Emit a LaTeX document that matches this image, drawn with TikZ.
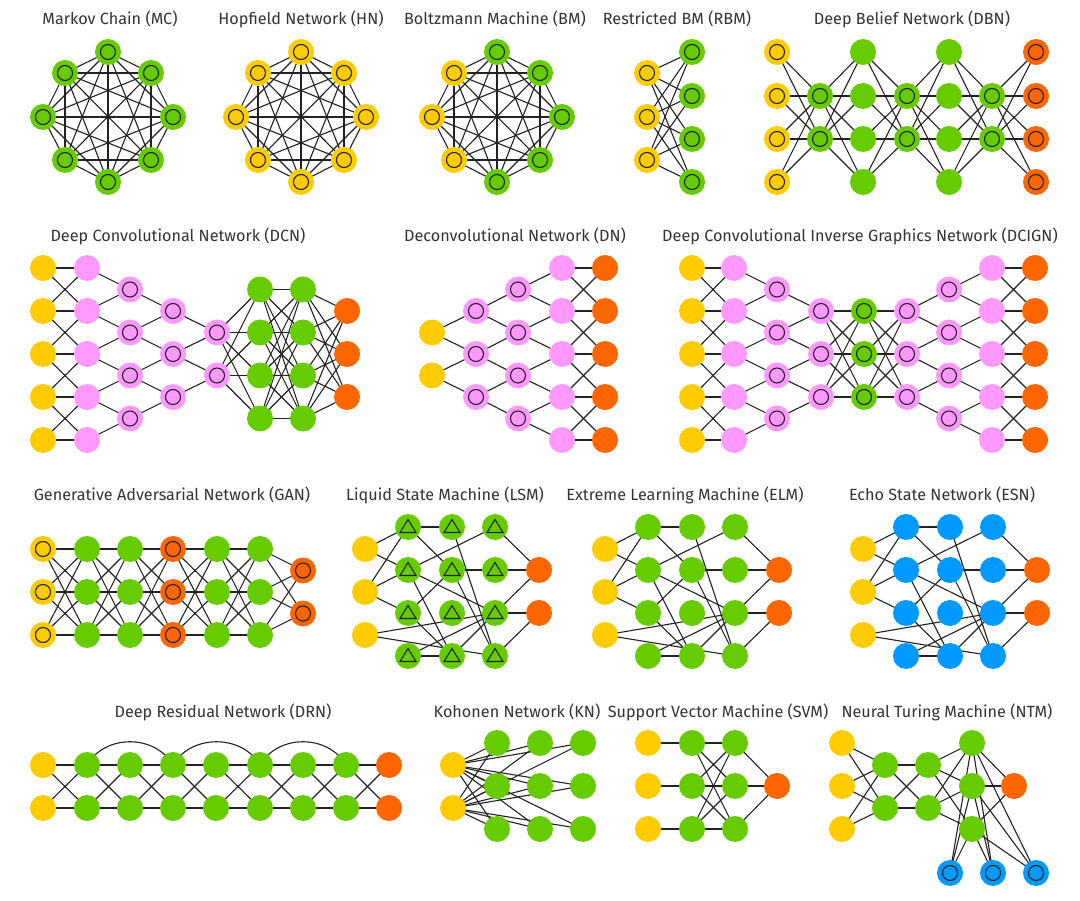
\documentclass[tikz,border=0pt]{standalone}
\usepackage{fontspec}
\setmainfont{Fira Sans}
\pgfdeclarelayer{bg}
\pgfdeclarelayer{paper}
\pgfsetlayers{paper,bg,main}
\definecolor{cy}{HTML}{FFCC00}
\definecolor{cg}{HTML}{66CC00}
\definecolor{co}{HTML}{FF6600}
\definecolor{cp}{HTML}{FF99FF}
\definecolor{cb}{HTML}{0099FF}
\definecolor{ct}{HTML}{333333}
\definecolor{ce}{HTML}{222222}
% full bipartite: prefix1, n1, prefix2, n2
\newcommand\fullc[4]{\foreach \i in {1,...,#2}{\foreach \j in {1,...,#4}{\draw[ed] (#1\i.center) -- (#3\j.center);}}}
% tridiagonal: prefix1, prefix2, n
\newcommand\tridg[3]{\foreach \i in {1,...,#3}{\foreach \j in {1,...,#3}{\ifnum\numexpr\i-\j\relax<2 \ifnum\numexpr\j-\i\relax<2 \draw[ed] (#1\i.center) -- (#2\j.center);\fi\fi}}}
% convolution: big prefix, small prefix, small count
\newcommand\convc[3]{\foreach \j in {1,...,#3}{\pgfmathtruncatemacro\jj{\j+1}\draw[ed] (#1\j.center) -- (#2\j.center); \draw[ed] (#1\jj.center) -- (#2\j.center);}}
% random reservoir network: prefix, input x, hidden options
\newcommand\rnet[3]{%
 \foreach \y [count=\k] in {549,592,635} \node[nd,fill=cy] (#1y\k) at (#2,\y) {};
 \foreach \c/\dx in {a/43,b/87,c/130}{\foreach \y [count=\k] in {527,570,613,656} \node[nd,#3] (#1\c\k) at ({#2+\dx},\y) {};}
 \foreach \y [count=\k] in {570,613} \node[nd,fill=co] (#1o\k) at ({#2+174},\y) {};
 \begin{pgfonlayer}{bg}
 \foreach \u/\v in {y1/a1,y1/a2,y2/a1,y2/a2,y2/a3,y3/c3,y3/c4,a1/b1,a1/b2,a2/c1,a2/c3,a2/b4,a3/b2,a3/b4,a4/b4,a4/c3,b1/c4,b2/c2,b2/c4,b4/c3,c1/o1,c2/o1,c3/o1,c3/o2,c4/o2}
   \draw[ed] (#1\u.center) -- (#1\v.center);
 \end{pgfonlayer}}
\begin{document}
\begin{tikzpicture}[x=1pt,y=-1pt,
  nd/.style={circle,minimum size=26pt,inner sep=0pt,draw=none},
  rg/.style={path picture={\draw[line width=1.1pt,ce] (path picture bounding box.center) circle[radius=7.5pt];}},
  tr/.style={path picture={\draw[line width=1.1pt,ce,line join=miter] ([yshift=7.5pt]path picture bounding box.center) -- ++(-8pt,-13pt) -- ++(16pt,0pt) -- cycle;}},
  ed/.style={line width=1.1pt,ce},
  ttl/.style={font=\fontsize{16.2}{19}\selectfont,text=ct,inner sep=0pt}]
\useasboundingbox (0,0) rectangle (1080,901);
\begin{pgfonlayer}{paper}
\fill[white] (0,0) rectangle (1080,901);
\end{pgfonlayer}

% ---------- titles ----------
\node[ttl] (t-mc) at (110,19) {Markov Chain (MC)};
\node[ttl] (t-hn) at (301,19) {Hopfield Network (HN)};
\node[ttl] (t-bm) at (495,19) {Boltzmann Machine (BM)};
\node[ttl] (t-rbm) at (677,19) {Restricted BM (RBM)};
\node[ttl] (t-dbn) at (912,19) {Deep Belief Network (DBN)};
\node[ttl] (t-dcn) at (178,236) {Deep Convolutional Network (DCN)};
\node[ttl] (t-dn) at (515,236) {Deconvolutional Network (DN)};
\node[ttl] (t-dcign) at (860,236) {Deep Convolutional Inverse Graphics Network (DCIGN)};
\node[ttl] (t-gan) at (172,495) {Generative Adversarial Network (GAN)};
\node[ttl] (t-lsm) at (445,495) {Liquid State Machine (LSM)};
\node[ttl] (t-elm) at (685,495) {Extreme Learning Machine (ELM)};
\node[ttl] (t-esn) at (942,495) {Echo State Network (ESN)};
\node[ttl] (t-drn) at (223,712) {Deep Residual Network (DRN)};
\node[ttl] (t-kn) at (517,712) {Kohonen Network (KN)};
\node[ttl] (t-svm) at (718,712) {Support Vector Machine (SVM)};
\node[ttl] (t-ntm) at (947,712) {Neural Turing Machine (NTM)};

% ---------- MC, HN, BM ----------
\foreach \k/\dx/\dy/\bc in {1/0/-65/cg,2/43/-44/cg,3/65/0/cg,4/43/43/cg,5/0/65/cg,6/-43/43/cy,7/-65/0/cy,8/-43/-44/cy}{
  \node[nd,rg,fill=cg] (mc\k) at ({108+\dx},{117+\dy}) {};
  \node[nd,rg,fill=cy] (hn\k) at ({301+\dx},{117+\dy}) {};
  \node[nd,rg,fill=\bc] (bm\k) at ({497+\dx},{117+\dy}) {};
}
\begin{pgfonlayer}{bg}
\foreach \n in {mc,hn,bm}{\foreach \i in {1,...,8}{\foreach \j in {1,...,8}{\ifnum\i<\j \draw[ed] (\n\i.center) -- (\n\j.center);\fi}}}
\end{pgfonlayer}

% ---------- RBM ----------
\foreach \y [count=\k] in {73,117,160} \node[nd,rg,fill=cy] (rv\k) at (647,\y) {};
\foreach \y [count=\k] in {52,96,139,182} \node[nd,rg,fill=cg] (rh\k) at (692,\y) {};
\begin{pgfonlayer}{bg}\fullc{rv}{3}{rh}{4}\end{pgfonlayer}

% ---------- DBN ----------
\foreach \y [count=\k] in {52,96,139,182}{
  \node[nd,rg,fill=cy] (db1-\k) at (777,\y) {};
  \node[nd,fill=cg] (db3-\k) at (863,\y) {};
  \node[nd,fill=cg] (db5-\k) at (949,\y) {};
  \node[nd,rg,fill=co] (db7-\k) at (1036,\y) {};
}
\foreach \y [count=\k] in {96,139}{
  \node[nd,rg,fill=cg] (db2-\k) at (820,\y) {};
  \node[nd,rg,fill=cg] (db4-\k) at (907,\y) {};
  \node[nd,rg,fill=cg] (db6-\k) at (992,\y) {};
}
\begin{pgfonlayer}{bg}
\fullc{db1-}{4}{db2-}{2}\fullc{db2-}{2}{db3-}{4}\fullc{db3-}{4}{db4-}{2}
\fullc{db4-}{2}{db5-}{4}\fullc{db5-}{4}{db6-}{2}\fullc{db6-}{2}{db7-}{4}
\end{pgfonlayer}

% ---------- DCN ----------
\foreach \y [count=\k] in {268,311,354,397,440}{
  \node[nd,fill=cy] (dc1-\k) at (43,\y) {};
  \node[nd,fill=cp] (dc2-\k) at (87,\y) {};
}
\foreach \y [count=\k] in {289.5,332.5,375.5,418.5}{
  \node[nd,rg,fill=cp] (dc3-\k) at (130,\y) {};
  \node[nd,fill=cg] (dc6-\k) at (260,\y) {};
  \node[nd,fill=cg] (dc7-\k) at (303,\y) {};
}
\foreach \y [count=\k] in {311,354,397}{
  \node[nd,rg,fill=cp] (dc4-\k) at (173,\y) {};
  \node[nd,fill=co] (dc8-\k) at (347,\y) {};
}
\foreach \y [count=\k] in {332.5,375.5} \node[nd,rg,fill=cp] (dc5-\k) at (217,\y) {};
\begin{pgfonlayer}{bg}
\tridg{dc1-}{dc2-}{5}\convc{dc2-}{dc3-}{4}\convc{dc3-}{dc4-}{3}\convc{dc4-}{dc5-}{2}
\fullc{dc5-}{2}{dc6-}{4}\fullc{dc6-}{4}{dc7-}{4}\fullc{dc7-}{4}{dc8-}{3}
\end{pgfonlayer}

% ---------- DN ----------
\foreach \y [count=\k] in {332.5,375.5} \node[nd,fill=cy] (dn1-\k) at (432,\y) {};
\foreach \y [count=\k] in {311,354,397} \node[nd,rg,fill=cp] (dn2-\k) at (476,\y) {};
\foreach \y [count=\k] in {289.5,332.5,375.5,418.5} \node[nd,rg,fill=cp] (dn3-\k) at (518,\y) {};
\foreach \y [count=\k] in {268,311,354,397,440}{
  \node[nd,fill=cp] (dn4-\k) at (562,\y) {};
  \node[nd,fill=co] (dn5-\k) at (605,\y) {};
}
\begin{pgfonlayer}{bg}
\convc{dn2-}{dn1-}{2}\convc{dn3-}{dn2-}{3}\convc{dn4-}{dn3-}{4}\tridg{dn4-}{dn5-}{5}
\end{pgfonlayer}

% ---------- DCIGN ----------
\foreach \y [count=\k] in {268,311,354,397,440}{
  \node[nd,fill=cy] (dg1-\k) at (692,\y) {};
  \node[nd,fill=cp] (dg2-\k) at (734,\y) {};
  \node[nd,fill=cp] (dg8-\k) at (992,\y) {};
  \node[nd,fill=co] (dg9-\k) at (1035,\y) {};
}
\foreach \y [count=\k] in {289.5,332.5,375.5,418.5}{
  \node[nd,rg,fill=cp] (dg3-\k) at (777,\y) {};
  \node[nd,rg,fill=cp] (dg7-\k) at (949,\y) {};
}
\foreach \y [count=\k] in {311,354,397}{
  \node[nd,rg,fill=cp] (dg4-\k) at (821,\y) {};
  \node[nd,rg,fill=cg] (dg5-\k) at (864,\y) {};
  \node[nd,rg,fill=cp] (dg6-\k) at (907,\y) {};
}
\begin{pgfonlayer}{bg}
\tridg{dg1-}{dg2-}{5}\convc{dg2-}{dg3-}{4}\convc{dg3-}{dg4-}{3}
\fullc{dg4-}{3}{dg5-}{3}\fullc{dg5-}{3}{dg6-}{3}
\convc{dg7-}{dg6-}{3}\convc{dg8-}{dg7-}{4}\tridg{dg8-}{dg9-}{5}
\end{pgfonlayer}

% ---------- GAN ----------
\foreach \y [count=\k] in {549,592,635}{
  \node[nd,rg,fill=cy] (ga1-\k) at (43,\y) {};
  \node[nd,fill=cg] (ga2-\k) at (87,\y) {};
  \node[nd,fill=cg] (ga3-\k) at (130,\y) {};
  \node[nd,rg,fill=co] (ga4-\k) at (173,\y) {};
  \node[nd,fill=cg] (ga5-\k) at (217,\y) {};
  \node[nd,fill=cg] (ga6-\k) at (260,\y) {};
}
\foreach \y [count=\k] in {570.5,613.5} \node[nd,rg,fill=co] (ga7-\k) at (303,\y) {};
\begin{pgfonlayer}{bg}
\fullc{ga1-}{3}{ga2-}{3}\fullc{ga2-}{3}{ga3-}{3}\fullc{ga3-}{3}{ga4-}{3}
\fullc{ga4-}{3}{ga5-}{3}\fullc{ga5-}{3}{ga6-}{3}\fullc{ga6-}{3}{ga7-}{2}
\end{pgfonlayer}

% ---------- LSM, ELM, ESN ----------
\rnet{ls}{365}{fill=cg,tr}
\rnet{el}{605}{fill=cg}
\rnet{es}{863}{fill=cb}

% ---------- DRN ----------
\foreach \x [count=\k] in {43,87,130,173,216,260,303,346,389}{
  \ifnum\k=1 \def\cc{cy}\else\ifnum\k=9 \def\cc{co}\else\def\cc{cg}\fi\fi
  \node[nd,fill=\cc] (dr\k-1) at (\x,765) {};
  \node[nd,fill=\cc] (dr\k-2) at (\x,808) {};
}
\begin{pgfonlayer}{bg}
\foreach \k in {1,...,8}{\pgfmathtruncatemacro\kk{\k+1}\fullc{dr\k-}{2}{dr\kk-}{2}}
\foreach \a/\b in {2/4,4/6,6/8}
  \draw[ed] (dr\a-1.center) .. controls +(18,-31) and +(-18,-31) .. (dr\b-1.center);
\end{pgfonlayer}

% ---------- KN ----------
\foreach \y [count=\k] in {765,808} \node[nd,fill=cy] (kn0-\k) at (453,\y) {};
\foreach \x [count=\c] in {497,540,583}{\foreach \y [count=\k] in {743,786,829}{
  \node[nd,fill=cg] (kn\c-\k) at (\x,\y) {};}}
\begin{pgfonlayer}{bg}
\fullc{kn0-}{2}{kn1-}{3}\fullc{kn0-}{2}{kn2-}{3}\fullc{kn0-}{2}{kn3-}{3}
\end{pgfonlayer}

% ---------- SVM ----------
\foreach \y [count=\k] in {743,786,829}{
  \node[nd,fill=cy] (sv1-\k) at (648,\y) {};
  \node[nd,fill=cg] (sv2-\k) at (692,\y) {};
  \node[nd,fill=cg] (sv3-\k) at (735,\y) {};
}
\node[nd,fill=co] (sv4-1) at (777,786) {};
\begin{pgfonlayer}{bg}
\foreach \k in {1,2,3} \draw[ed] (sv1-\k.center) -- (sv2-\k.center);
\fullc{sv2-}{3}{sv3-}{3}\fullc{sv3-}{3}{sv4-}{1}
\end{pgfonlayer}

% ---------- NTM ----------
\foreach \y [count=\k] in {743,786,829}{
  \node[nd,fill=cy] (nt1-\k) at (842,\y) {};
  \node[nd,fill=cg] (nt4-\k) at (972,\y) {};
}
\foreach \y [count=\k] in {765,808}{
  \node[nd,fill=cg] (nt2-\k) at (885,\y) {};
  \node[nd,fill=cg] (nt3-\k) at (928,\y) {};
}
\node[nd,fill=co] (nt5-1) at (1014,786) {};
\foreach \x [count=\k] in {950,993,1036} \node[nd,rg,fill=cb] (nt6-\k) at (\x,873) {};
\begin{pgfonlayer}{bg}
\fullc{nt1-}{3}{nt2-}{2}\fullc{nt2-}{2}{nt3-}{2}\fullc{nt3-}{2}{nt4-}{3}
\fullc{nt4-}{3}{nt5-}{1}\fullc{nt4-}{3}{nt6-}{3}
\end{pgfonlayer}
\end{tikzpicture}
\end{document}
